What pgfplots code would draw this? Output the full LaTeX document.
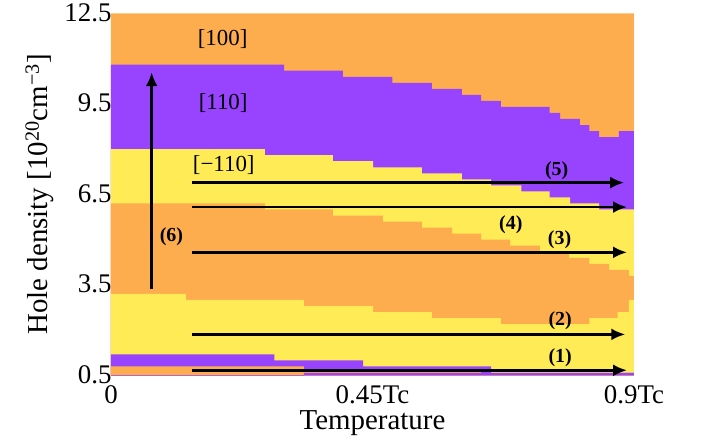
\documentclass[border=0pt]{standalone}
\usepackage{pgfplots}
\pgfplotsset{compat=1.18}
\usepackage{fontspec}
\setmainfont{Liberation Serif}
\usetikzlibrary{arrows.meta}
\definecolor{cor}{HTML}{FDAD4E}
\definecolor{cpu}{HTML}{9844FF}
\definecolor{cye}{HTML}{FFEB55}
\begin{document}
\begin{tikzpicture}
\begin{axis}[
  scale only axis, width=523bp, height=362bp,
  at={(0,0)}, anchor=south west,
  xmin=0, xmax=0.9, ymin=0.5, ymax=12.5,
  xtick={0,0.45,0.9}, xticklabels={0,0.45Tc,0.9Tc},
  ytick={0.5,3.5,6.5,9.5,12.5},
  /pgf/number format/assume math mode=true,
  /pgf/number format/fixed, /pgf/number format/precision=1,
  /pgf/number format/fixed zerofill,
  axis line style={draw=none},
  major tick length=0pt,
  tick label style={font=\fontsize{27}{30}\selectfont},
  yticklabel style={xshift=4bp, yshift=1bp},
  xticklabel style={yshift=-7bp},
  xlabel={Temperature},
  ylabel={Hole density [10\textsuperscript{20}cm\textsuperscript{−3}]},
  every axis x label/.style={at={(axis description cs:0.5,-0.133)}, anchor=center, font=\fontsize{29}{32}\selectfont},
  every axis y label/.style={at={(axis description cs:-0.136,0.5)}, rotate=90, anchor=center, font=\fontsize{29}{32}\selectfont},
  clip=true,
]
% background regions (layered)
\addplot[fill=cor, draw=none, const plot] coordinates {(0,12.5) (0.9,12.5)} \closedcycle;
\addplot[fill=cpu, draw=none, const plot] coordinates {(0,10.8) (0.298,10.6) (0.399,10.4) (0.484,10.2) (0.552,10.0) (0.604,9.8) (0.637,9.6) (0.671,9.4) (0.755,9.2) (0.773,9.0) (0.807,8.8) (0.823,8.6) (0.840,8.4) (0.874,8.6) (0.9,8.6)} \closedcycle;
\addplot[fill=cye, draw=none, const plot] coordinates {(0,8.0) (0.265,7.8) (0.382,7.6) (0.451,7.4) (0.535,7.2) (0.604,7.0) (0.654,6.8) (0.706,6.6) (0.755,6.4) (0.790,6.2) (0.840,6.0) (0.9,6.0)} \closedcycle;
\addplot[fill=cor, draw=none, const plot] coordinates {(0,6.2) (0.265,6.0) (0.382,5.8) (0.468,5.6) (0.535,5.4) (0.587,5.2) (0.637,5.0) (0.687,4.8) (0.738,4.6) (0.788,4.4) (0.823,4.2) (0.857,4.0) (0.891,3.8) (0.9,3.8)} \closedcycle;
\addplot[fill=cye, draw=none, const plot] coordinates {(0,3.2) (0.129,3.0) (0.332,2.8) (0.451,2.6) (0.552,2.4) (0.671,2.2) (0.823,2.4) (0.872,2.6) (0.891,3.0) (0.9,3.0)} \closedcycle;
\addplot[fill=cpu, draw=none, const plot] coordinates {(0,1.2) (0.281,1.0) (0.434,0.8) (0.654,0.58) (0.9,0.58)} \closedcycle;
\addplot[fill=cor, draw=none, const plot] coordinates {(0,0.8) (0.332,0.7) (0.637,0.3) (0.9,0.3)} \closedcycle;
\addplot[fill=cpu, draw=none, const plot] coordinates {(0,0.3) (0.332,0.58) (0.9,0.58)} \closedcycle;
% arrows
\addplot[black, line width=2.6bp, -{Latex[length=14bp,width=12bp]}] coordinates {(0.14,6.89) (0.883,6.89)};
\addplot[black, line width=2.6bp, -{Latex[length=14bp,width=12bp]}] coordinates {(0.14,6.08) (0.888,6.08)};
\addplot[black, line width=2.6bp, -{Latex[length=14bp,width=12bp]}] coordinates {(0.14,4.58) (0.888,4.58)};
\addplot[black, line width=2.6bp, -{Latex[length=14bp,width=12bp]}] coordinates {(0.14,1.86) (0.885,1.86)};
\addplot[black, line width=2.6bp, -{Latex[length=14bp,width=12bp]}] coordinates {(0.14,0.67) (0.888,0.67)};
\addplot[black, line width=2.6bp, -{Latex[length=14bp,width=12bp]}] coordinates {(0.070,3.38) (0.070,10.55)};
% labels
\node[font=\fontsize{23}{26}\selectfont] at (axis cs:0.192,11.64) {[100]};
\node[font=\fontsize{23}{26}\selectfont] at (axis cs:0.193,9.52) {[110]};
\node[font=\fontsize{23}{26}\selectfont] at (axis cs:0.194,7.48) {[−110]};
\node[font=\fontsize{20}{22}\selectfont\bfseries] at (axis cs:0.767,7.30) {(5)};
\node[font=\fontsize{20}{22}\selectfont\bfseries] at (axis cs:0.688,5.49) {(4)};
\node[font=\fontsize{20}{22}\selectfont\bfseries] at (axis cs:0.772,4.99) {(3)};
\node[font=\fontsize{20}{22}\selectfont\bfseries] at (axis cs:0.773,2.31) {(2)};
\node[font=\fontsize{20}{22}\selectfont\bfseries] at (axis cs:0.773,1.08) {(1)};
\node[font=\fontsize{20}{22}\selectfont\bfseries] at (axis cs:0.104,5.11) {(6)};
\end{axis}
\path (-111bp,-70bp) rectangle (591bp,375bp);
\end{tikzpicture}
\end{document}
